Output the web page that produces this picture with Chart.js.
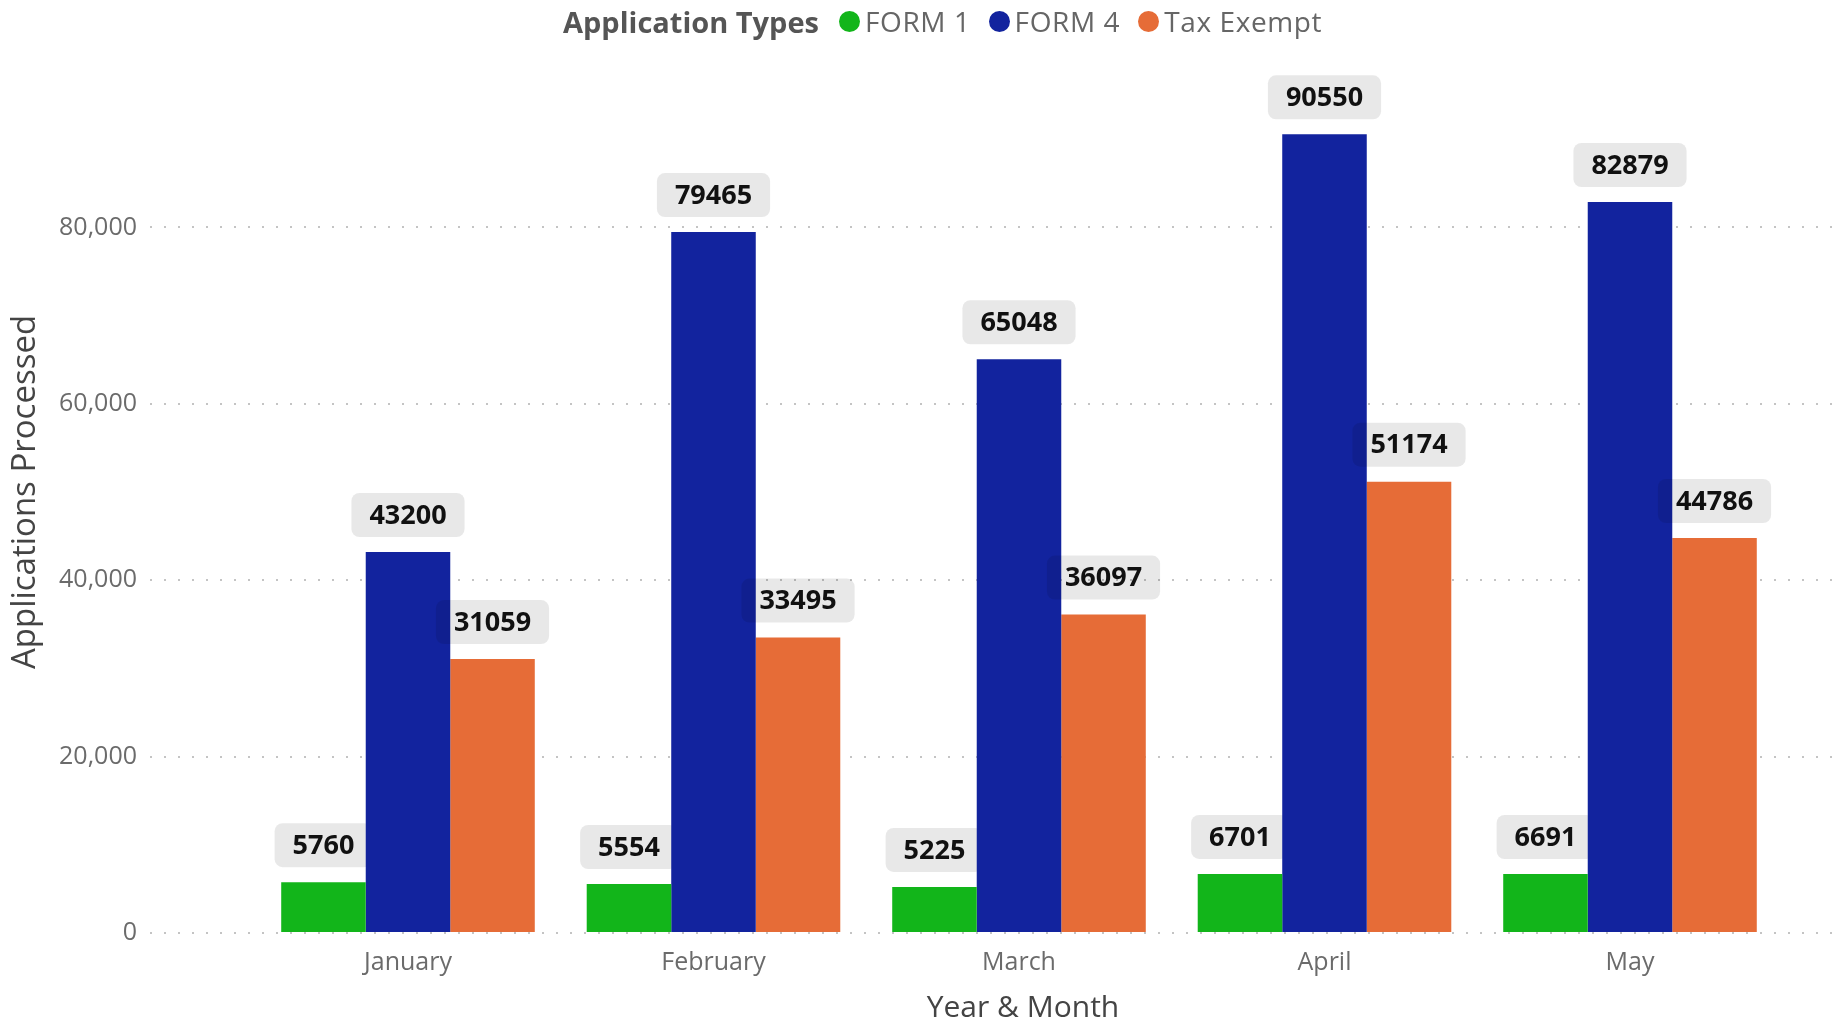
<!DOCTYPE html>
<html>
<head>
<meta charset="utf-8">
<script src="https://cdn.jsdelivr.net/npm/chart.js@4.4.0/dist/chart.umd.min.js"></script>
<style>
  html, body { margin: 0; padding: 0; background: #fff; overflow: hidden; }
  #wrap { position: relative; width: 1835px; height: 1020px; overflow: hidden; }
  #legend {
    position: absolute; left: 563px; top: 0; height: 42px;
    display: flex; align-items: center; white-space: nowrap;
    font-family: "Open Sans", sans-serif; font-size: 28px; color: #666;
  }
  #legend .title { font-weight: bold; color: #555; margin-right: 20px; font-size: 29px; }
  #legend .dot { width: 21px; height: 21px; border-radius: 50%; margin-right: 5px; }
  #legend .item { display: flex; align-items: center; margin-right: 18px; letter-spacing: 0.6px; }
</style>
</head>
<body>
<div id="wrap">
  <!-- plot runs a little past the right edge, as in the source visual -->
  <canvas id="chart" width="1896" height="1020"></canvas>
  <div id="legend"></div>
</div>
<script>
const months = ["January", "February", "March", "April", "May"];
const form1 = [5760, 5554, 5225, 6701, 6691];
const form4 = [43200, 79465, 65048, 90550, 82879];
const taxExempt = [31059, 33495, 36097, 51174, 44786];
const seriesNames = ["FORM 1", "FORM 4", "Tax Exempt"];
const seriesColors = ["#12B51A", "#12239E", "#E66C37"];
const yTicks = [0, 20000, 40000, 60000, 80000];

const FONT = '"Open Sans", sans-serif';

// legend built as html so the title can sit inline
const legend = document.getElementById("legend");
legend.innerHTML = '<span class="title">Application Types</span>' +
  seriesNames.map((n, i) =>
    `<span class="item"><span class="dot" style="background:${seriesColors[i]}"></span>${n}</span>`
  ).join("");

function drawLabels(chart, indexes) {
  const ctx = chart.ctx;
  ctx.save();
  ctx.font = "bold 27px " + FONT;
  ctx.textAlign = "center";
  ctx.textBaseline = "middle";
  indexes.forEach(d => {
    const meta = chart.getDatasetMeta(d);
    meta.data.forEach((bar, i) => {
      const text = String(chart.data.datasets[d].data[i].y);
      const w = ctx.measureText(text).width + 36;
      const h = 44;
      const x = bar.x - w / 2;
      const y = bar.y - 15 - h;
      ctx.fillStyle = "rgba(0,0,0,0.09)";
      ctx.beginPath();
      ctx.roundRect(x, y, w, h, 8);
      ctx.fill();
      ctx.fillStyle = "#111";
      ctx.fillText(text, bar.x, y + h / 2 + 1);
    });
  });
  ctx.restore();
}

const labelPlugin = {
  id: "valueBoxes",
  beforeDatasetsDraw(chart) { drawLabels(chart, [0]); },
  afterDatasetsDraw(chart) { drawLabels(chart, [1, 2]); }
};

const series = [form1, form4, taxExempt];

new Chart(document.getElementById("chart"), {
  type: "bar",
  data: {
    datasets: series.map((vals, s) => ({
      label: seriesNames[s],
      data: vals.map((v, i) => ({ x: i, y: v })),
      backgroundColor: seriesColors[s],
      borderWidth: 0,
      categoryPercentage: 0.83,
      barPercentage: 1.0
    }))
  },
  options: {
    responsive: false,
    animation: false,
    devicePixelRatio: 1,
    layout: { padding: { top: 51, left: 0, right: 0, bottom: 0 } },
    plugins: { legend: { display: false }, tooltip: { enabled: false } },
    scales: {
      x: {
        type: "linear",
        offset: false,
        min: -0.8445,
        max: 4.8707,
        grid: { display: false, offset: false },
        border: { display: false },
        afterBuildTicks: s => { s.ticks = months.map((m, i) => ({ value: i })); },
        afterFit: s => { s.height = 87; },
        ticks: {
          autoSkip: false, maxRotation: 0, padding: 7,
          color: "#6b6b6b", font: { family: FONT, size: 25 },
          callback: v => months[v]
        },
        title: {
          display: true, text: "Year & Month", color: "#444",
          font: { family: FONT, size: 30, lineHeight: 0.8 }, padding: { top: 0, bottom: 0 }
        }
      },
      y: {
        min: 0,
        max: 100000,
        afterBuildTicks: s => { s.ticks = yTicks.map(v => ({ value: v })); },
        afterFit: s => { s.width = 150; },
        grid: { color: "#c4c4c4", lineWidth: 2, drawTicks: false },
        border: { display: false, dash: [2, 12] },
        ticks: {
          padding: 13, color: "#6b6b6b", font: { family: FONT, size: 25 },
          callback: v => v.toLocaleString("en-US")
        },
        title: {
          display: true, text: "Applications Processed", color: "#444",
          font: { family: FONT, size: 33 }, padding: { top: 6, bottom: 0 }
        }
      }
    }
  },
  plugins: [labelPlugin]
});
</script>
</body>
</html>
